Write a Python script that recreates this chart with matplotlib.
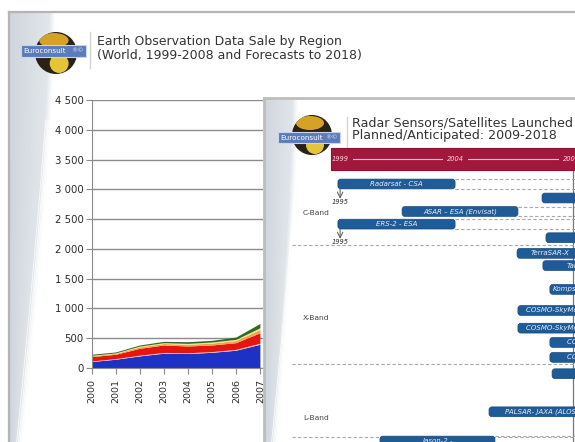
import numpy as np
import matplotlib
matplotlib.use("Agg")
import matplotlib.pyplot as plt
from matplotlib.patches import FancyBboxPatch, Rectangle, Circle, Ellipse
from matplotlib.ticker import FuncFormatter

# ---------------- data: main chart ----------------
years = [2000, 2001, 2002, 2003, 2004, 2005, 2006, 2007]
region_blue = [100, 139, 195, 240, 235, 255, 290, 390]
region_pink = [10, 10, 12, 12, 12, 12, 14, 18]
region_red = [73, 73, 115, 126, 114, 111, 113, 175]
region_orange = [14, 15, 25, 25, 28, 32, 35, 55]
region_yellow = [8, 8, 13, 14, 16, 18, 20, 29]
region_green = [17, 16, 18, 22, 28, 28, 39, 72]
y_ticks = [0, 500, 1000, 1500, 2000, 2500, 3000, 3500, 4000, 4500]
x_range = [2000, 2018]

main_title_1 = "Earth Observation Data Sale by Region"
main_title_2 = "(World, 1999-2008 and Forecasts to 2018)"

# ---------------- data: radar timeline ----------------
radar_title_1 = "Radar Sensors/Satellites Launched"
radar_title_2 = "Planned/Anticipated: 2009-2018"
bar_labels = ["Radarsat - CSA", "", "ASAR – ESA (Envisat)", "ERS-2 - ESA", "",
              "TerraSAR-X", "TanDEM-X", "Kompsat-5", "COSMO-SkyMed 1",
              "COSMO-SkyMed 2", "COSMO-SkyMed 3", "COSMO-SkyMed 4", "",
              "PALSAR- JAXA (ALOS)", "Jason-2 -"]
bar_start = [1999.27, 2008.59, 2002.2, 1999.27, 2008.77, 2007.45, 2008.63, 2008.95,
             2007.49, 2007.49, 2008.95, 2008.95, 2009.05, 2006.17, 2001.19]
bar_end = [2004.62, 2011.0, 2007.49, 2004.62, 2011.0, 2010.46, 2012.4, 2010.96,
           2011.1, 2011.1, 2013.4, 2013.4, 2011.0, 2011.0, 2006.44]
bar_lane = [0, 1.03, 2.02, 2.95, 3.95, 5.1, 6.0, 7.75, 9.3, 10.6, 11.65, 12.75,
            13.95, 16.75, 18.9]
bar_extended_to = [2011, None, 2011, 2011, None, None, None, None, None, None,
                   None, None, None, None, 2011]
early_lanes = [0, 2.95]
early_x = [1999.37, 1999.37]
early_labels = ["1995", "1995"]
band_names = ["C-Band", "X-Band", "L-Band"]
band_label_lane = [2.13, 9.85, 17.2]
band_separator_lane = [4.49, 13.24, 18.6]
header_years = [1999, 2004, 2009]
now_year = 2010.0

# ---------------- layout helpers ----------------
W, H = 575, 442
fig = plt.figure(figsize=(W / 100, H / 100), dpi=100)
fig.patch.set_facecolor("white")


def rect(x0, y0, x1, y1):
    return [x0 / W, 1 - y1 / H, (x1 - x0) / W, (y1 - y0) / H]


def yr(px):
    return 1999 + (px - 332) / 21.9


def ln(py):
    return (py - 184) / 13.6


def band(ax, x0, y0, y1, w_top, w_bot, zo=1):
    hh = int(y1 - y0)
    ww = int(w_top + 12)
    t = np.linspace(0, 1, hh)[:, None]
    c = np.arange(ww)[None, :]
    w = w_top + (w_bot - w_top) * t ** 1.4
    a = np.clip((w - c) / 6.0, 0, 1) * 0.85
    f = np.clip(c / w, 0, 1)
    img = np.zeros((hh, ww, 4))
    img[..., 0] = 0.78 + 0.10 * f
    img[..., 1] = 0.81 + 0.09 * f
    img[..., 2] = 0.84 + 0.08 * f
    img[..., 3] = a
    ax.imshow(img, extent=(x0, x0 + ww, y1, y0), origin="upper",
              aspect="auto", zorder=zo, interpolation="bilinear")
    tt = np.linspace(0.25, 1, 80)
    for k in [0.55, 0.7, 0.82, 0.93]:
        wx = (w_top + (w_bot - w_top) * tt ** 1.4) * k + (1 - k) * 40 * (1 - tt)
        ax.plot(x0 + wx, y0 + tt * (y1 - y0), color="white", lw=0.6,
                alpha=0.8, zorder=zo + 0.1)


def logo(ax, cx, cy, r, rx0, ry0, rx1, ry1, divx, dy0, dy1):
    globe = Circle((cx, cy), r, fc="#2a2216", ec="none", zorder=5)
    ax.add_patch(globe)
    for e in [Ellipse((cx - r * 0.1, cy - r * 0.6), r * 1.4, r * 0.7, fc="#d4a326", ec="none", zorder=5.1),
              Ellipse((cx + r * 0.15, cy + r * 0.5), r * 0.9, r * 0.9, fc="#e6c43a", ec="none", zorder=5.1)]:
        ax.add_patch(e)
        e.set_clip_path(globe)
    ax.add_patch(Rectangle((rx0, ry0), rx1 - rx0, ry1 - ry0, fc="#5b7cba",
                           ec="#c9d5ea", lw=0.8, zorder=5.2))
    ax.text(rx0 + 2, (ry0 + ry1) / 2, "Euroconsult", color="white", fontsize=5.2,
            va="center", ha="left", zorder=5.3)
    ax.text(rx1 - 2, (ry0 + ry1) / 2, "®©", color="#dfe6f3", fontsize=4.5,
            va="center", ha="right", zorder=5.3)
    ax.plot([divx, divx], [dy0, dy1], color="#d4d4d4", lw=1, zorder=5)


# ---------------- background (main slide) ----------------
bg = fig.add_axes([0, 0, 1, 1])
bg.set_xlim(0, W)
bg.set_ylim(H, 0)
bg.set_axis_off()
bg.set_zorder(0)
band(bg, 10, 13, 442, 45, 12)
bg.plot([9, 575], [12, 12], color="#b4b4b4", lw=1.6, zorder=3)
bg.plot([9, 9], [12, 442], color="#b4b4b4", lw=1.6, zorder=3)
logo(bg, 56, 53, 21, 21, 45, 86, 57, 90, 32, 68)
bg.text(97, 45, main_title_1, fontsize=9.0, color="#333333", va="baseline", ha="left")
bg.text(97, 59, main_title_2, fontsize=9.0, color="#333333", va="baseline", ha="left")

# ---------------- main stacked area chart ----------------
ax = fig.add_axes(rect(92, 100, 525, 368))
ax.set_zorder(1)
ax.patch.set_alpha(0)
ax.stackplot(years, region_blue, region_pink, region_red, region_orange,
             region_yellow, region_green,
             colors=["#1d32c4", "#f2b6bf", "#e4160f", "#f4a24a", "#f7e08a", "#2f6a22"],
             lw=0)
ax.set_xlim(*x_range)
ax.set_ylim(y_ticks[0], y_ticks[-1])
ax.set_yticks(y_ticks)
ax.yaxis.set_major_formatter(FuncFormatter(lambda v, p: f"{v:,.0f}".replace(",", " ")))
ax.set_xticks(years)
ax.set_xticklabels([str(y) for y in years], rotation=90)
ax.grid(axis="y", color="#8c8c8c", lw=1)
ax.set_axisbelow(True)
for s in ["top", "right"]:
    ax.spines[s].set_visible(False)
for s in ["left", "bottom"]:
    ax.spines[s].set_color("#8a8a8a")
ax.tick_params(axis="y", length=4, color="#8a8a8a", labelsize=7.3, labelcolor="#2a2a2a", pad=2)
ax.tick_params(axis="x", length=4, color="#8a8a8a", labelsize=6.8, labelcolor="#2a2a2a", pad=4)

# ---------------- overlay slide ----------------
ov = fig.add_axes(rect(263, 97, 575, 442))
ov.set_zorder(2)
ov.set_xlim(263, 575)
ov.set_ylim(442, 97)
ov.set_axis_off()
ov.add_patch(Rectangle((263, 97), 312, 345, fc="white", ec="none", zorder=0))
band(ov, 265, 98, 442, 33, 12)
ov.plot([263, 575], [98, 98], color="#bdbdbd", lw=2, zorder=4)
ov.plot([264, 264], [97, 442], color="#bdbdbd", lw=2, zorder=4)
logo(ov, 312, 135, 20, 278, 132, 340, 143, 347, 117, 150)
ov.text(352, 126, radar_title_1, fontsize=9.1, color="#333333", va="baseline", ha="left")
ov.text(352, 139.5, radar_title_2, fontsize=9.1, color="#333333", va="baseline", ha="left")

# ---------------- timeline ----------------
tl = fig.add_axes(rect(263, 97, 575, 442))
tl.set_zorder(3)
tl.patch.set_alpha(0)
tl.set_axis_off()
x_lo, x_hi = yr(263), yr(575)
tl.set_xlim(x_lo, x_hi)
tl.set_ylim(ln(442), ln(97))

# header band
h_top, h_bot = ln(148), ln(170)
tl.add_patch(Rectangle((yr(331), h_top), x_hi + 1 - yr(331), h_bot - h_top,
                       fc="#a2183d", ec="#8a1232", lw=0.8, zorder=2))
h_mid = (h_top + h_bot) / 2
hx = [yr(340 + (h - 1999) * 23.1) for h in header_years]
for i, (h, x) in enumerate(zip(header_years, hx)):
    tl.text(x, h_mid, str(h), color="#f3d6de", fontsize=4.8, style="italic",
            ha="center", va="center", zorder=3)
    nxt = hx[i + 1] if i + 1 < len(hx) else x_hi + 2
    tl.plot([x + 13 / 21.9, nxt - 13 / 21.9], [h_mid, h_mid], color="#f0c8d2",
            lw=0.8, zorder=3)

# now line
tl.plot([now_year, now_year], [h_bot, ln(442)], color="#777777", lw=0.9, zorder=1)

# separators and band labels
for lane in band_separator_lane:
    tl.plot([yr(292), x_hi], [lane, lane], color="#a8a8a8", lw=0.8,
            ls=(0, (3, 2)), zorder=1)
for name, lane in zip(band_names, band_label_lane):
    tl.text(yr(303), lane, name, fontsize=5.4, color="#444444", ha="left", va="center")

# bars
bh = 0.72
asp = 21.9 / 13.6
for lab, s, e, lane, ext in zip(bar_labels, bar_start, bar_end, bar_lane, bar_extended_to):
    if ext is not None:
        tl.plot([e, ext], [lane - bh / 2, lane - bh / 2], color="#a8a8a8", lw=0.8,
                ls=(0, (3, 2)), zorder=1.5)
        tl.plot([e, ext], [lane + bh / 2, lane + bh / 2], color="#a8a8a8", lw=0.8,
                ls=(0, (3, 2)), zorder=1.5)
    tl.add_patch(FancyBboxPatch((s, lane - bh / 2), e - s, bh,
                                boxstyle="round,pad=0,rounding_size=0.13",
                                mutation_aspect=asp, fc="#1f5c97", ec="#174a7d",
                                lw=0.5, zorder=2))
    if lab:
        tl.text((s + e) / 2, lane, lab, color="#e8eef6", fontsize=5, style="italic",
                ha="center", va="center", zorder=3, clip_on=True)

# arrows to earlier start years
for lane, x, lab in zip(early_lanes, early_x, early_labels):
    tl.annotate("", xy=(x, lane + 1.08), xytext=(x, lane + bh / 2),
                arrowprops=dict(arrowstyle="->", color="#555555", lw=0.7,
                                shrinkA=0, shrinkB=0))
    tl.text(x, lane + 1.35, lab, fontsize=4.8, style="italic", color="#333333",
            ha="center", va="center")

fig.savefig("out.png", dpi=100, facecolor="white")
